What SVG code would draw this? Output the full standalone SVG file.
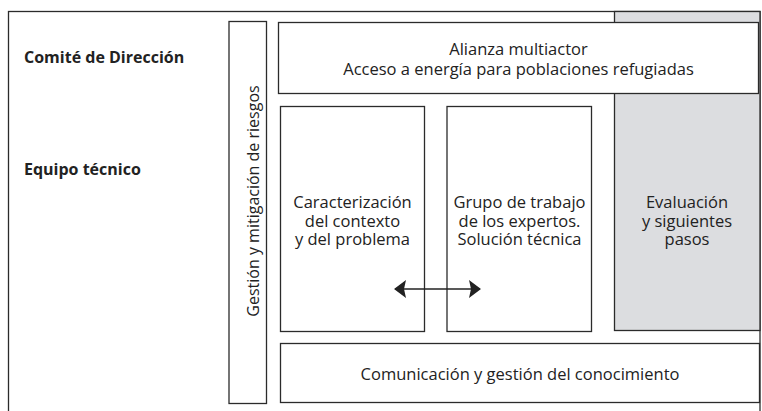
<svg xmlns="http://www.w3.org/2000/svg" width="762" height="411" viewBox="0 0 762 411">
<style>
.box{fill:#fff;stroke:#2b2b2b;stroke-width:1.3}
.grey{fill:#dcdde0;stroke:#2b2b2b;stroke-width:1.3}
.t{font-family:"Open Sans","Noto Sans",sans-serif;font-size:16.5px;fill:#222;text-anchor:middle}
.v{font-size:16px}
.b{font-family:"Open Sans","Noto Sans",sans-serif;font-size:16px;font-weight:bold;fill:#222}
.conn{stroke:#222;stroke-width:1.5;fill:none}
</style>
<defs>
<marker id="ah" viewBox="0 0 12 18" refX="11" refY="9" markerWidth="12" markerHeight="18" markerUnits="userSpaceOnUse" orient="auto-start-reverse">
<path d="M0,0 L12,9 L0,18 L2,9 Z" fill="#222"/>
</marker>
</defs>
<rect x="8.5" y="11.5" width="751.5" height="410" fill="#fff" stroke="#2b2b2b" stroke-width="1.3"/>
<g id="grey-evaluacion">
<rect class="grey" x="614.5" y="11.5" width="145.5" height="319"/>
<text class="t" x="687" y="207.5">Evaluación</text>
<text class="t" x="687" y="226.5">y siguientes</text>
<text class="t" x="687" y="245">pasos</text>
</g>
<g id="label-comite"><text class="b" x="24" y="63">Comité de Dirección</text></g>
<g id="label-equipo"><text class="b" x="24" y="175">Equipo técnico</text></g>
<g id="gestion">
<rect class="box" x="229" y="21.5" width="37.5" height="382"/>
<text class="t v" transform="translate(258.5,201) rotate(-90)">Gestión y mitigación de riesgos</text>
</g>
<g id="alianza">
<rect class="box" x="278.5" y="22.5" width="480" height="71"/>
<text class="t" x="518.5" y="55">Alianza multiactor</text>
<text class="t" x="518.5" y="74.5">Acceso a energía para poblaciones refugiadas</text>
</g>
<g id="caracterizacion">
<rect class="box" x="280.5" y="106.5" width="144" height="225"/>
<text class="t" x="352.5" y="208">Caracterización</text>
<text class="t" x="352.5" y="226.5">del contexto</text>
<text class="t" x="352.5" y="245">y del problema</text>
</g>
<g id="grupo">
<rect class="box" x="447" y="106.5" width="144.5" height="225"/>
<text class="t" x="519.5" y="208">Grupo de trabajo</text>
<text class="t" x="519.5" y="226.5">de los expertos.</text>
<text class="t" x="519.5" y="245">Solución técnica</text>
</g>
<g id="comunicacion">
<rect class="box" x="280.5" y="343.5" width="479" height="59"/>
<text class="t" x="520" y="380">Comunicación y gestión del conocimiento</text>
</g>
<g id="connectors">
<line class="conn" x1="395" y1="289" x2="480" y2="289" marker-start="url(#ah)" marker-end="url(#ah)"/>
</g>
</svg>
